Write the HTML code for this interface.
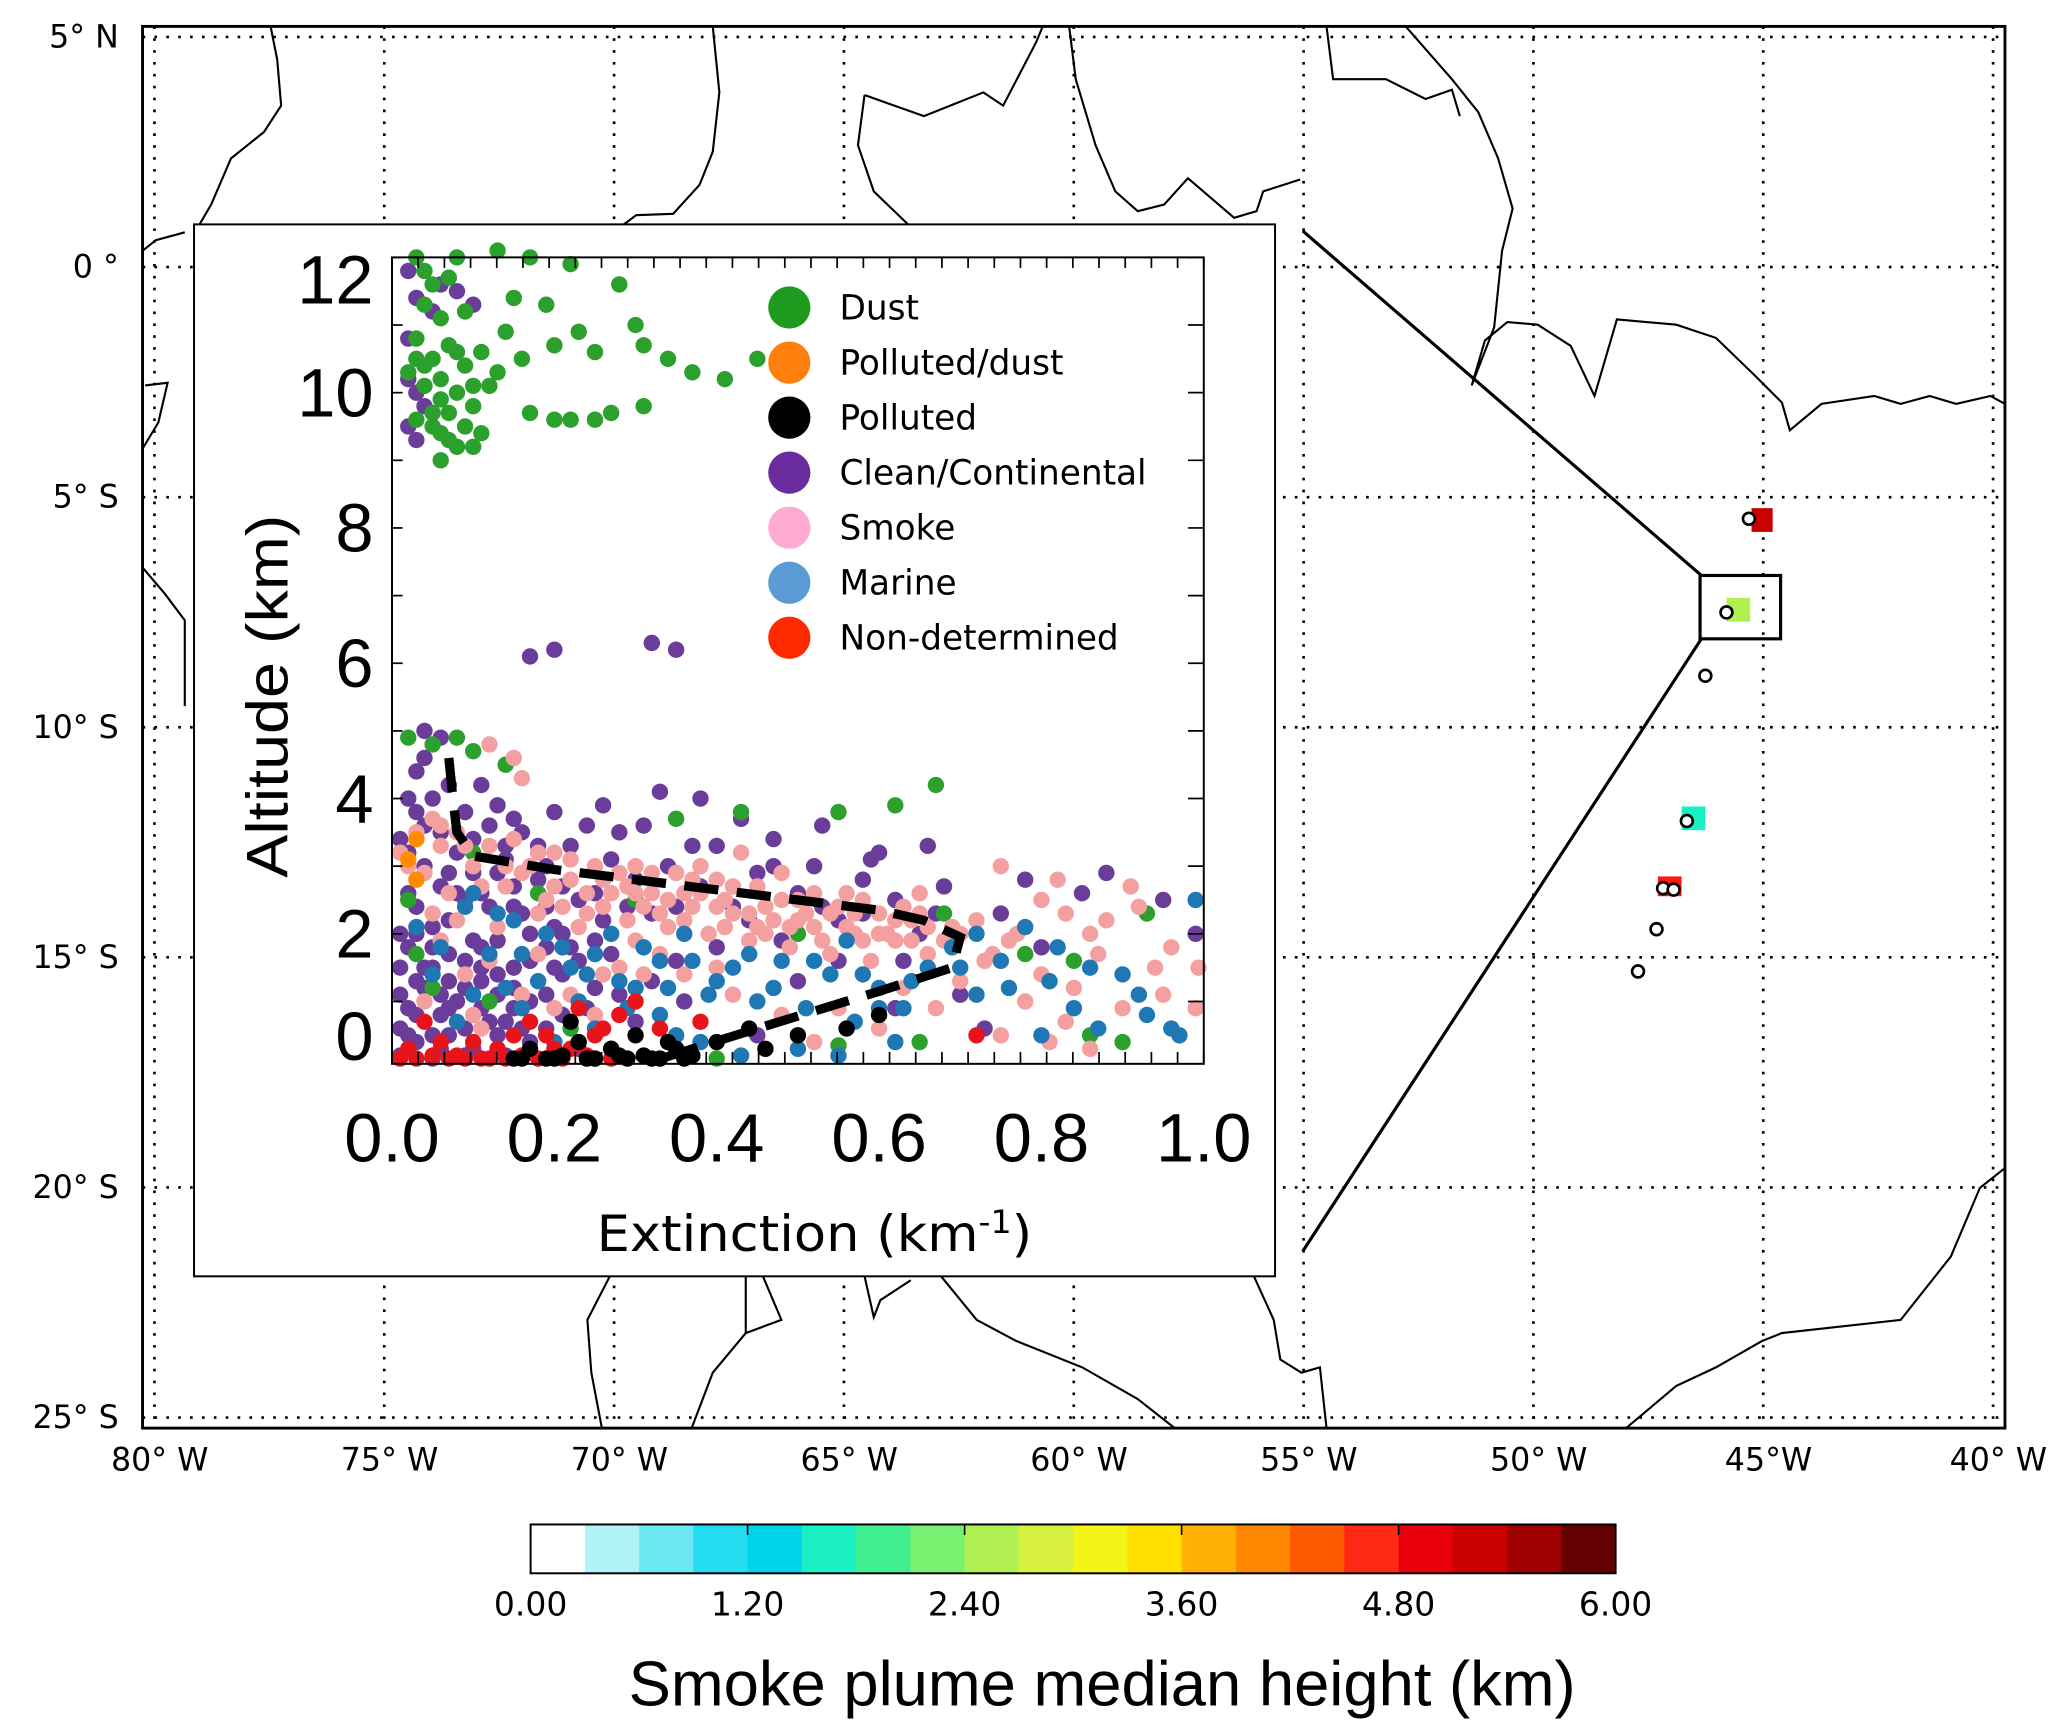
<!DOCTYPE html>
<html><head><meta charset="utf-8"><style>
html,body{margin:0;padding:0;background:#fff;}
svg{display:block;}
</style></head><body>
<svg id="fig" width="2067" height="1733" viewBox="0 0 1566 1313" preserveAspectRatio="none" xmlns="http://www.w3.org/2000/svg">
<rect x="0" y="0" width="1566" height="1313" fill="#fff"/>
<g id="map">
  <g id="grid" stroke="#000" stroke-width="2" stroke-dasharray="2,7" fill="none"></g>
  <g stroke="#000" stroke-width="1.6" fill="none">
    <polyline points="205,20 210,45 213,80 200,100 175,120 160,155 150,172"/>
    <polyline points="108,190 118,182 140,176"/>
    <polyline points="110,292 127,290 120,320 108,340"/>
    <polyline points="108,430 125,450 140,470 140,535"/>
    <polyline points="470,172 482,163 510,162 530,140 540,115 545,70 540,20"/>
    <polyline points="655,72 700,88 745,70 760,80 785,32 790,20"/>
    <polyline points="655,72 650,110 662,145 690,172"/>
    <polyline points="810,20 815,60 830,110 845,145 862,160 882,155 900,135 935,165 952,160 957,145 985,136"/>
    <polyline points="1005,20 1010,60 1050,60 1080,75 1100,68 1106,88"/>
    <polyline points="1065,20 1100,60 1120,85 1135,120 1146,158 1138,190 1132,248 1115,292 1125,258 1142,244 1165,246 1190,262 1208,300 1225,242 1270,246 1300,256 1330,285 1350,305 1356,326 1380,306 1420,300 1440,306 1462,300 1482,306 1508,300 1519,306"/>
    <polyline points="1232,1082 1270,1050 1300,1036 1335,1016 1350,1010 1440,1000 1478,952 1500,900 1519,885"/>
    <polyline points="462,967 445,1000 448,1040 456,1082"/>
    <polyline points="524,1082 540,1040 565,1010 592,1000 578,967"/>
    <polyline points="565,1010 565,967"/>
    <polyline points="655,967 662,998 667,985 690,970"/>
    <polyline points="713,967 740,1000 770,1016 820,1036 862,1060 890,1082"/>
    <polyline points="950,967 965,1000 970,1030 986,1040 1000,1036 1005,1082"/>
  </g>
  <rect x="108" y="20" width="1411" height="1062" fill="none" stroke="#000" stroke-width="2.2"/>
  <g id="latlabels" font-family="DejaVu Sans, sans-serif" font-size="24" fill="#000" text-anchor="end"></g>
  <g id="lonlabels" font-family="DejaVu Sans, sans-serif" font-size="24" fill="#000" text-anchor="middle"></g>
  <g stroke="#000" stroke-width="2.4" fill="none">
    <polyline points="987,175 1289,436"/>
    <polyline points="1289,484 987,948"/>
    <rect x="1288" y="436" width="61" height="48"/>
  </g>
  <g>
    <rect x="1327" y="385" width="16" height="18" fill="#c80000"/>
    <rect x="1308" y="453" width="18" height="18" fill="#b0f050"/>
    <rect x="1274" y="611" width="18" height="18" fill="#1af0c4"/>
    <rect x="1256" y="664" width="18" height="15" fill="#ff1a10"/>
    <g fill="#fff" stroke="#000" stroke-width="2">
      <circle cx="1325" cy="393" r="4.5"/><circle cx="1308" cy="464" r="4.5"/><circle cx="1292" cy="512" r="4.5"/>
      <circle cx="1278" cy="622" r="4.5"/><circle cx="1260" cy="673" r="4.5"/><circle cx="1268" cy="674" r="4.5"/>
      <circle cx="1255" cy="704" r="4.5"/><circle cx="1241" cy="736" r="4.5"/>
    </g>
  </g>
</g>
<g id="inset">
  <rect x="147" y="170" width="819" height="797" fill="#fff" stroke="#000" stroke-width="1.5"/>
  <g id="points"></g>
  <path id="dash" fill="none" stroke="#000" stroke-width="7" stroke-dasharray="26,14"/>
  <rect x="297" y="195" width="615" height="611" fill="none" stroke="#000" stroke-width="1.5"/>
  <g id="ticks" stroke="#000" stroke-width="1.3"></g>
  <g id="xticklabels" font-family="Liberation Sans, sans-serif" font-size="52" text-anchor="middle"></g>
  <g id="yticklabels" font-family="Liberation Sans, sans-serif" font-size="52" text-anchor="end"></g>
  <text x="452" y="948" font-family="DejaVu Sans, sans-serif" font-size="38" textLength="330" lengthAdjust="spacingAndGlyphs">Extinction (km<tspan font-size="24" dy="-14">-1</tspan><tspan dy="14">)</tspan></text>
  <text transform="translate(218,665) rotate(-90)" font-family="Liberation Sans, sans-serif" font-size="44" textLength="275" lengthAdjust="spacingAndGlyphs">Altitude (km)</text>
  <g id="legend" font-family="DejaVu Sans, sans-serif" font-size="26"></g>
</g>
<g id="cbar"></g>
<text x="835" y="1292" text-anchor="middle" font-family="Liberation Sans, sans-serif" font-size="48">Smoke plume median height (km)</text>
</svg>
<script>
const NS="http://www.w3.org/2000/svg";
// ---- data ----
const latLabels=["5° N","0 °","5° S","10° S","15° S","20° S","25° S"];
const latValues=[5,0,-5,-10,-15,-20,-25];
const lonLabels=["80° W","75° W","70° W","65° W","60° W","55° W","50° W","45°W","40° W"];
const lonValues=[-80,-75,-70,-65,-60,-55,-50,-45,-40];
const xTicks=[0,0.2,0.4,0.6,0.8,1.0];
const xTickLabels=["0.0","0.2","0.4","0.6","0.8","1.0"];
const yTicks=[0,2,4,6,8,10,12];
const yTickLabels=["0","2","4","6","8","10","12"];
const cbarColors=["#ffffff","#b0f4f8","#6ce8f5","#24dcf0","#00d4ea","#1af0c4","#40ef90","#7af070","#b0f050","#d8f040","#f4f418","#ffe000","#ffb000","#ff8800","#ff5a00","#ff2a14","#e8000a","#c80000","#9c0000","#640000"];
const cbarTicks=[0,1.2,2.4,3.6,4.8,6.0];
const cbarTickLabels=["0.00","1.20","2.40","3.60","4.80","6.00"];
const legendNames=["Dust","Polluted/dust","Polluted","Clean/Continental","Smoke","Marine","Non-determined"];
const legendColors=["#1e9a1e","#ff7f0e","#000000","#6a2c9c","#ffaad0","#5b9bd5","#ff2a00"];
const dustPts=[[0.03,12],[0.04,11.8],[0.05,11.6],[0.07,11.7],[0.08,12],[0.13,12.1],[0.17,12],[0.22,11.9],[0.28,11.6],[0.04,11.3],[0.06,11.1],[0.09,11.2],[0.15,11.4],[0.19,11.3],[0.03,10.8],[0.05,10.5],[0.07,10.7],[0.09,10.4],[0.11,10.6],[0.14,10.9],[0.16,10.5],[0.2,10.7],[0.23,10.9],[0.25,10.6],[0.3,11.0],[0.31,10.7],[0.34,10.5],[0.37,10.3],[0.41,10.2],[0.45,10.5],[0.04,10.1],[0.06,9.9],[0.08,10.0],[0.1,9.8],[0.12,10.1],[0.03,9.6],[0.05,9.5],[0.07,9.3],[0.09,9.5],[0.11,9.4],[0.17,9.7],[0.2,9.6],[0.22,9.6],[0.25,9.6],[0.27,9.7],[0.31,9.8],[0.06,9.0],[0.08,9.2],[0.1,9.2],[0.13,10.3],[0.02,10.3],[0.04,10.4],[0.06,10.2],[0.08,10.6],[0.05,9.7],[0.07,9.7],[0.03,10.5],[0.1,10.1],[0.06,9.4],[0.02,4.9],[0.05,4.8],[0.08,4.9],[0.1,4.7],[0.14,4.5],[0.35,3.7],[0.43,3.8],[0.55,3.8],[0.62,3.9],[0.67,4.2],[0.1,3.2],[0.18,2.6],[0.3,2.5],[0.5,2.0],[0.68,2.3],[0.78,1.7],[0.84,1.6],[0.93,2.3],[0.05,1.2],[0.12,1.0],[0.22,0.6],[0.4,0.1],[0.55,0.35],[0.65,0.4],[0.86,0.5],[0.9,0.4],[0.02,2.5],[0.03,1.7],[0.25,0.1]];
const cleanPts=[[0.02,11.8],[0.03,11.4],[0.05,11.2],[0.08,11.5],[0.1,11.3],[0.02,10.2],[0.03,10.0],[0.04,9.8],[0.02,9.5],[0.03,9.3],[0.02,10.8],[0.06,11.6],[0.17,6.1],[0.2,6.2],[0.32,6.3],[0.35,6.2],[0.01,0.2],[0.03,0.4],[0.05,0.1],[0.07,0.5],[0.02,0.9],[0.04,1.2],[0.06,0.8],[0.08,1.0],[0.1,0.3],[0.12,0.7],[0.14,0.2],[0.11,1.3],[0.09,1.6],[0.01,1.5],[0.03,2.0],[0.05,1.8],[0.07,2.2],[0.02,2.6],[0.04,3.0],[0.06,2.7],[0.08,3.2],[0.1,2.9],[0.12,2.4],[0.13,1.9],[0.15,1.5],[0.16,2.3],[0.18,2.8],[0.2,2.1],[0.17,1.0],[0.19,0.6],[0.21,1.4],[0.23,2.5],[0.25,1.9],[0.27,3.1],[0.22,3.3],[0.24,3.6],[0.28,3.5],[0.3,2.8],[0.32,2.3],[0.34,3.0],[0.35,1.6],[0.38,2.7],[0.4,3.3],[0.42,2.4],[0.45,2.9],[0.47,3.4],[0.5,2.6],[0.52,3.0],[0.55,2.2],[0.58,2.8],[0.6,3.2],[0.62,2.5],[0.65,2.0],[0.68,2.7],[0.7,1.1],[0.75,2.3],[0.8,1.8],[0.85,2.6],[0.88,2.9],[0.95,2.5],[0.99,2.0],[0.73,0.6],[0.62,0.9],[0.5,1.3],[0.45,0.5],[0.3,0.7],[0.27,0.3],[0.05,4.0],[0.03,4.4],[0.06,4.9],[0.04,5.0],[0.11,4.2],[0.13,3.9],[0.15,3.7],[0.2,3.8],[0.26,3.9],[0.33,4.1],[0.38,4.0],[0.43,3.7],[0.53,3.6],[0.59,3.1],[0.66,3.3],[0.78,2.8],[0.09,3.8],[0.01,3.4],[0.14,3.1],[0.36,1.0],[0.4,1.8],[0.55,1.6],[0.02,0.5],[0.06,0.3],[0.09,0.6],[0.13,1.1],[0.16,0.6],[0.04,1.5],[0.07,1.3],[0.11,1.8],[0.19,2.4],[0.22,1.8],[0.15,2.7],[0.26,2.2],
[0.01,0.6],[0.03,0.8],[0.05,0.5],[0.07,0.9],[0.09,0.2],[0.11,0.9],[0.13,0.5],[0.15,0.9],[0.17,0.4],[0.19,1.1],[0.21,0.8],[0.23,0.3],[0.25,1.2],[0.01,1.1],[0.03,1.3],[0.05,1.5],[0.07,1.7],[0.09,1.2],[0.11,1.5],[0.13,1.4],[0.15,1.2],[0.17,1.6],[0.19,1.8],[0.21,2.0],[0.23,1.6],[0.27,1.7],[0.29,2.4],[0.01,2.0],[0.03,2.4],[0.05,2.1],[0.07,2.9],[0.09,2.5],[0.11,2.6],[0.13,2.9],[0.15,2.4],[0.17,2.0],[0.19,3.0],[0.21,2.7],[0.25,2.6],[0.02,3.2],[0.04,3.6],[0.06,3.5],[0.08,2.6],[0.1,3.4],[0.12,3.6],[0.14,3.3],[0.16,3.5],[0.18,3.3],[0.02,4.0],[0.04,4.6],[0.07,4.2],[0.03,3.8],[0.1,1.9],[0.06,1.1],[0.02,1.8],[0.14,0.7],[0.2,1.5],[0.24,0.9],[0.28,1.1],[0.32,1.3],[0.35,2.4],[0.44,2.2],[0.48,1.9],[0.53,2.4],[0.58,2.3],[0.63,1.6],[0.67,2.3],[0.47,3.0],[0.37,3.3],[0.31,3.6]];
const smokePts=[[0.01,3.2],[0.03,3.5],[0.05,3.7],[0.06,3.3],[0.08,3.5],[0.04,2.9],[0.07,2.6],[0.1,3.0],[0.12,3.3],[0.14,2.7],[0.15,3.4],[0.17,3.0],[0.19,2.5],[0.2,3.2],[0.22,2.8],[0.24,2.3],[0.25,3.0],[0.27,2.6],[0.29,2.2],[0.3,3.0],[0.32,2.6],[0.34,2.1],[0.35,2.9],[0.37,2.4],[0.39,2.0],[0.4,2.8],[0.42,2.3],[0.44,1.9],[0.45,2.7],[0.47,2.2],[0.49,1.8],[0.5,2.5],[0.52,2.1],[0.54,1.7],[0.55,2.4],[0.57,2.0],[0.59,1.6],[0.6,2.3],[0.62,1.9],[0.64,2.2],[0.66,1.7],[0.69,2.1],[0.72,2.2],[0.76,1.9],[0.8,2.5],[0.83,2.3],[0.87,1.7],[0.92,2.4],[0.96,1.8],[1.0,1.5],[0.75,3.0],[0.82,2.8],[0.91,2.7],[0.7,1.3],[0.78,1.0],[0.84,1.2],[0.9,0.9],[0.95,1.1],[0.99,0.9],[0.75,0.5],[0.81,0.4],[0.86,0.3],[0.6,0.6],[0.55,0.9],[0.48,0.8],[0.52,0.4],[0.42,1.1],[0.36,1.4],[0.28,1.5],[0.22,1.1],[0.18,1.7],[0.13,2.1],[0.09,1.4],[0.05,2.3],[0.12,4.8],[0.15,4.6],[0.16,4.3],[0.11,0.6],[0.16,0.2],[0.25,0.8],[0.3,1.9],[0.38,3.0],[0.43,3.2],[0.65,2.6],[0.33,1.7],[0.36,2.6],[0.41,2.5],[0.46,2.4],[0.51,2.3],[0.56,2.1],[0.61,2.0],[0.26,2.8],[0.31,2.4],[0.21,2.4],[0.48,2.9],[0.58,2.5],[0.63,2.4],
[0.16,2.9],[0.18,2.3],[0.2,2.7],[0.22,3.1],[0.24,2.6],[0.26,2.4],[0.28,2.9],[0.3,2.6],[0.32,2.9],[0.34,2.5],[0.36,2.2],[0.38,2.6],[0.4,2.4],[0.42,2.7],[0.44,2.3],[0.46,2.0],[0.48,2.5],[0.5,2.2],[0.52,2.6],[0.54,2.3],[0.56,2.6],[0.58,1.9],[0.6,2.0],[0.62,2.2],[0.64,1.9],[0.66,2.1],[0.68,1.9],[0.7,2.0],[0.53,1.9],[0.45,2.1],[0.37,2.8],[0.29,2.7],[0.23,2.1],[0.33,2.3],[0.41,2.1],[0.49,2.1],[0.57,2.3],[0.65,2.3],[0.06,3.6],[0.09,3.3],[0.11,2.7],[0.02,3.0],[0.14,3.0],[0.18,3.2],[0.08,2.2],[0.12,1.6],[0.16,1.1],[0.2,0.9],[0.06,1.9],[0.04,1.0],[0.1,0.8],[0.26,1.4],[0.31,1.4],[0.4,1.5],[0.63,1.2],[0.67,0.9],[0.73,1.6],[0.8,1.4],[0.88,2.2],[0.94,1.5],[0.83,0.7],[0.77,2.0],[0.74,1.7],[0.86,2.0]];
const marinePts=[[0.03,2.1],[0.06,1.8],[0.09,2.4],[0.12,1.7],[0.15,2.2],[0.18,1.3],[0.21,1.8],[0.24,1.4],[0.27,2.0],[0.3,1.2],[0.33,1.6],[0.36,2.0],[0.39,1.1],[0.42,1.5],[0.45,1.0],[0.48,1.6],[0.51,0.9],[0.54,1.4],[0.57,0.7],[0.6,1.2],[0.63,0.9],[0.66,1.5],[0.69,1.8],[0.72,2.0],[0.75,1.6],[0.78,2.1],[0.81,1.3],[0.84,0.9],[0.87,0.6],[0.9,1.4],[0.93,0.8],[0.96,0.6],[0.99,2.5],[0.8,0.5],[0.5,0.3],[0.43,0.2],[0.35,0.5],[0.2,0.4],[0.16,0.9],[0.08,0.7],[0.1,1.1],[0.25,0.6],[0.72,1.1],[0.62,0.4],[0.56,1.9],
[0.1,2.6],[0.13,2.3],[0.16,1.7],[0.19,2.0],[0.22,1.5],[0.25,1.7],[0.28,1.3],[0.31,1.8],[0.34,1.2],[0.37,1.6],[0.4,1.3],[0.44,1.7],[0.47,1.2],[0.52,1.6],[0.58,1.4],[0.64,1.3],[0.7,1.5],[0.76,1.2],[0.82,1.8],[0.86,1.5],[0.92,1.1],[0.97,0.5],[0.05,1.4],[0.14,1.2],[0.23,1.0],[0.29,0.9],[0.33,0.8],[0.38,0.4],[0.55,0.2],[0.6,0.9]];
const redPts=[[0.01,0.1],[0.03,0.0],[0.05,0.2],[0.07,0.0],[0.09,0.1],[0.11,0.0],[0.13,0.3],[0.15,0.5],[0.17,0.7],[0.19,0.5],[0.21,0.0],[0.23,0.9],[0.25,0.5],[0.28,0.8],[0.33,0.6],[0.3,1.0],[0.38,0.7],[0.72,0.5],[0.04,0.7],[0.1,0.4],[0.02,0.3],[0.06,0.4],[0.08,0.2],[0.12,0.1],[0.14,0.0],[0.16,0.2],[0.18,0.1],[0.2,0.3],[0.22,0.3],[0.24,0.2],[0.26,0.6],[0.27,0.1]];
const pollutedPts=[[0.15,0.1],[0.17,0.3],[0.19,0.0],[0.21,0.2],[0.23,0.4],[0.25,0.1],[0.27,0.3],[0.29,0.0],[0.31,0.2],[0.33,0.1],[0.35,0.3],[0.37,0.2],[0.4,0.4],[0.44,0.6],[0.46,0.3],[0.5,0.5],[0.56,0.6],[0.6,0.8],[0.22,0.7],[0.3,0.5],[0.16,0.0],[0.2,0.1],[0.24,0.0],[0.28,0.2],[0.32,0.0],[0.34,0.4],[0.36,0.0]];
const pollDustPts=[[0.03,3.4],[0.02,3.1],[0.03,2.8]];
const dashPts=[[0.07,4.6],[0.075,4.0],[0.08,3.5],[0.1,3.15],[0.2,2.95],[0.4,2.65],[0.6,2.35],[0.655,2.2],[0.7,1.95],[0.69,1.5],[0.6,1.15],[0.45,0.6],[0.33,0.15]];

// ---- scales ----
const lonX=v=>117+(v+80)*(1393/40);
const latY=v=>28+(5-v)*(1046/30);
const X=v=>297+v*615;
const Y=v=>810-v*51.25;
function mk(tag,attrs,parent){const e=document.createElementNS(NS,tag);for(const k in attrs)e.setAttribute(k,attrs[k]);parent.appendChild(e);return e;}

// grid
const grid=document.getElementById('grid');
lonValues.forEach(v=>{const l=mk('line',{x1:lonX(v),x2:lonX(v),y1:20,y2:1082},grid);

});
latValues.forEach(v=>{const l=mk('line',{x1:108,x2:1519,y1:latY(v),y2:latY(v)},grid);

});
const latG=document.getElementById('latlabels');
latValues.forEach((v,i)=>{const t=mk('text',{x:90,y:latY(v)+8},latG);t.textContent=latLabels[i];

});
const lonG=document.getElementById('lonlabels');
lonValues.forEach((v,i)=>{const t=mk('text',{x:lonX(v)+4,y:1114},lonG);t.textContent=lonLabels[i];

});

// points
const pg=document.getElementById('points');
function drawSeries(arr,color,name){arr.forEach(p=>{const c=mk('circle',{cx:Math.min(X(p[0]),908),cy:Math.min(Y(p[1]),802),r:6.2,fill:color},pg);

});}
drawSeries(cleanPts,'#6a3d9a','clean-continental-point');
drawSeries(dustPts,'#2ca02c','dust-point');
drawSeries(smokePts,'#f4a0a0','smoke-point');
drawSeries(marinePts,'#1f77b4','marine-point');
drawSeries(redPts,'#e8141c','non-determined-point');
drawSeries(pollutedPts,'#000000','polluted-point');
drawSeries(pollDustPts,'#ff8c00','polluted-dust-point');
document.getElementById('dash').setAttribute('d','M'+dashPts.map(p=>X(p[0])+','+Y(p[1])).join(' L'));

// ticks
const tg=document.getElementById('ticks');
for(let i=0;i<=31;i++){const x=297+i*615/31;mk('line',{x1:x,x2:x,y1:806,y2:797},tg);mk('line',{x1:x,x2:x,y1:195,y2:203},tg);}
for(let k=0;k<=12;k++){const y=Y(k);if(y<195||y>806)continue;mk('line',{x1:912,x2:900,y1:y,y2:y},tg);mk('line',{x1:297,x2:305,y1:y,y2:y},tg);}
const xg=document.getElementById('xticklabels');
xTicks.forEach((v,i)=>{const t=mk('text',{x:X(v),y:880},xg);t.textContent=xTickLabels[i];

});
const yg=document.getElementById('yticklabels');
yTicks.forEach((v,i)=>{let y=Y(v);y=Math.max(212,Math.min(785,y));const t=mk('text',{x:283,y:y+18},yg);t.textContent=yTickLabels[i];

});

// legend
const lg=document.getElementById('legend');
legendNames.forEach((n,i)=>{const y=233+i*41.7;
const c=mk('circle',{cx:598,cy:y,r:16,fill:legendColors[i]},lg);


const t=mk('text',{x:636,y:y+9},lg);t.textContent=n;

});

// colorbar
const cb=document.getElementById('cbar');
const cx0=402,cx1=1224,bw=(cx1-cx0)/cbarColors.length;
cbarColors.forEach((c,i)=>{const r=mk('rect',{x:cx0+i*bw,y:1155,width:bw+0.5,height:37,fill:c},cb);

});
mk('rect',{x:cx0,y:1155,width:cx1-cx0,height:37,fill:'none',stroke:'#000','stroke-width':1.5},cb);
cbarTicks.forEach((v,i)=>{const x=cx0+v/6*(cx1-cx0);mk('line',{x1:x,x2:x,y1:1155,y2:1163,stroke:'#000','stroke-width':1.2},cb);
const t=mk('text',{x:x,y:1224,'text-anchor':'middle','font-family':'DejaVu Sans, sans-serif','font-size':25},cb);t.textContent=cbarTickLabels[i];

});
</script>
</body></html>
